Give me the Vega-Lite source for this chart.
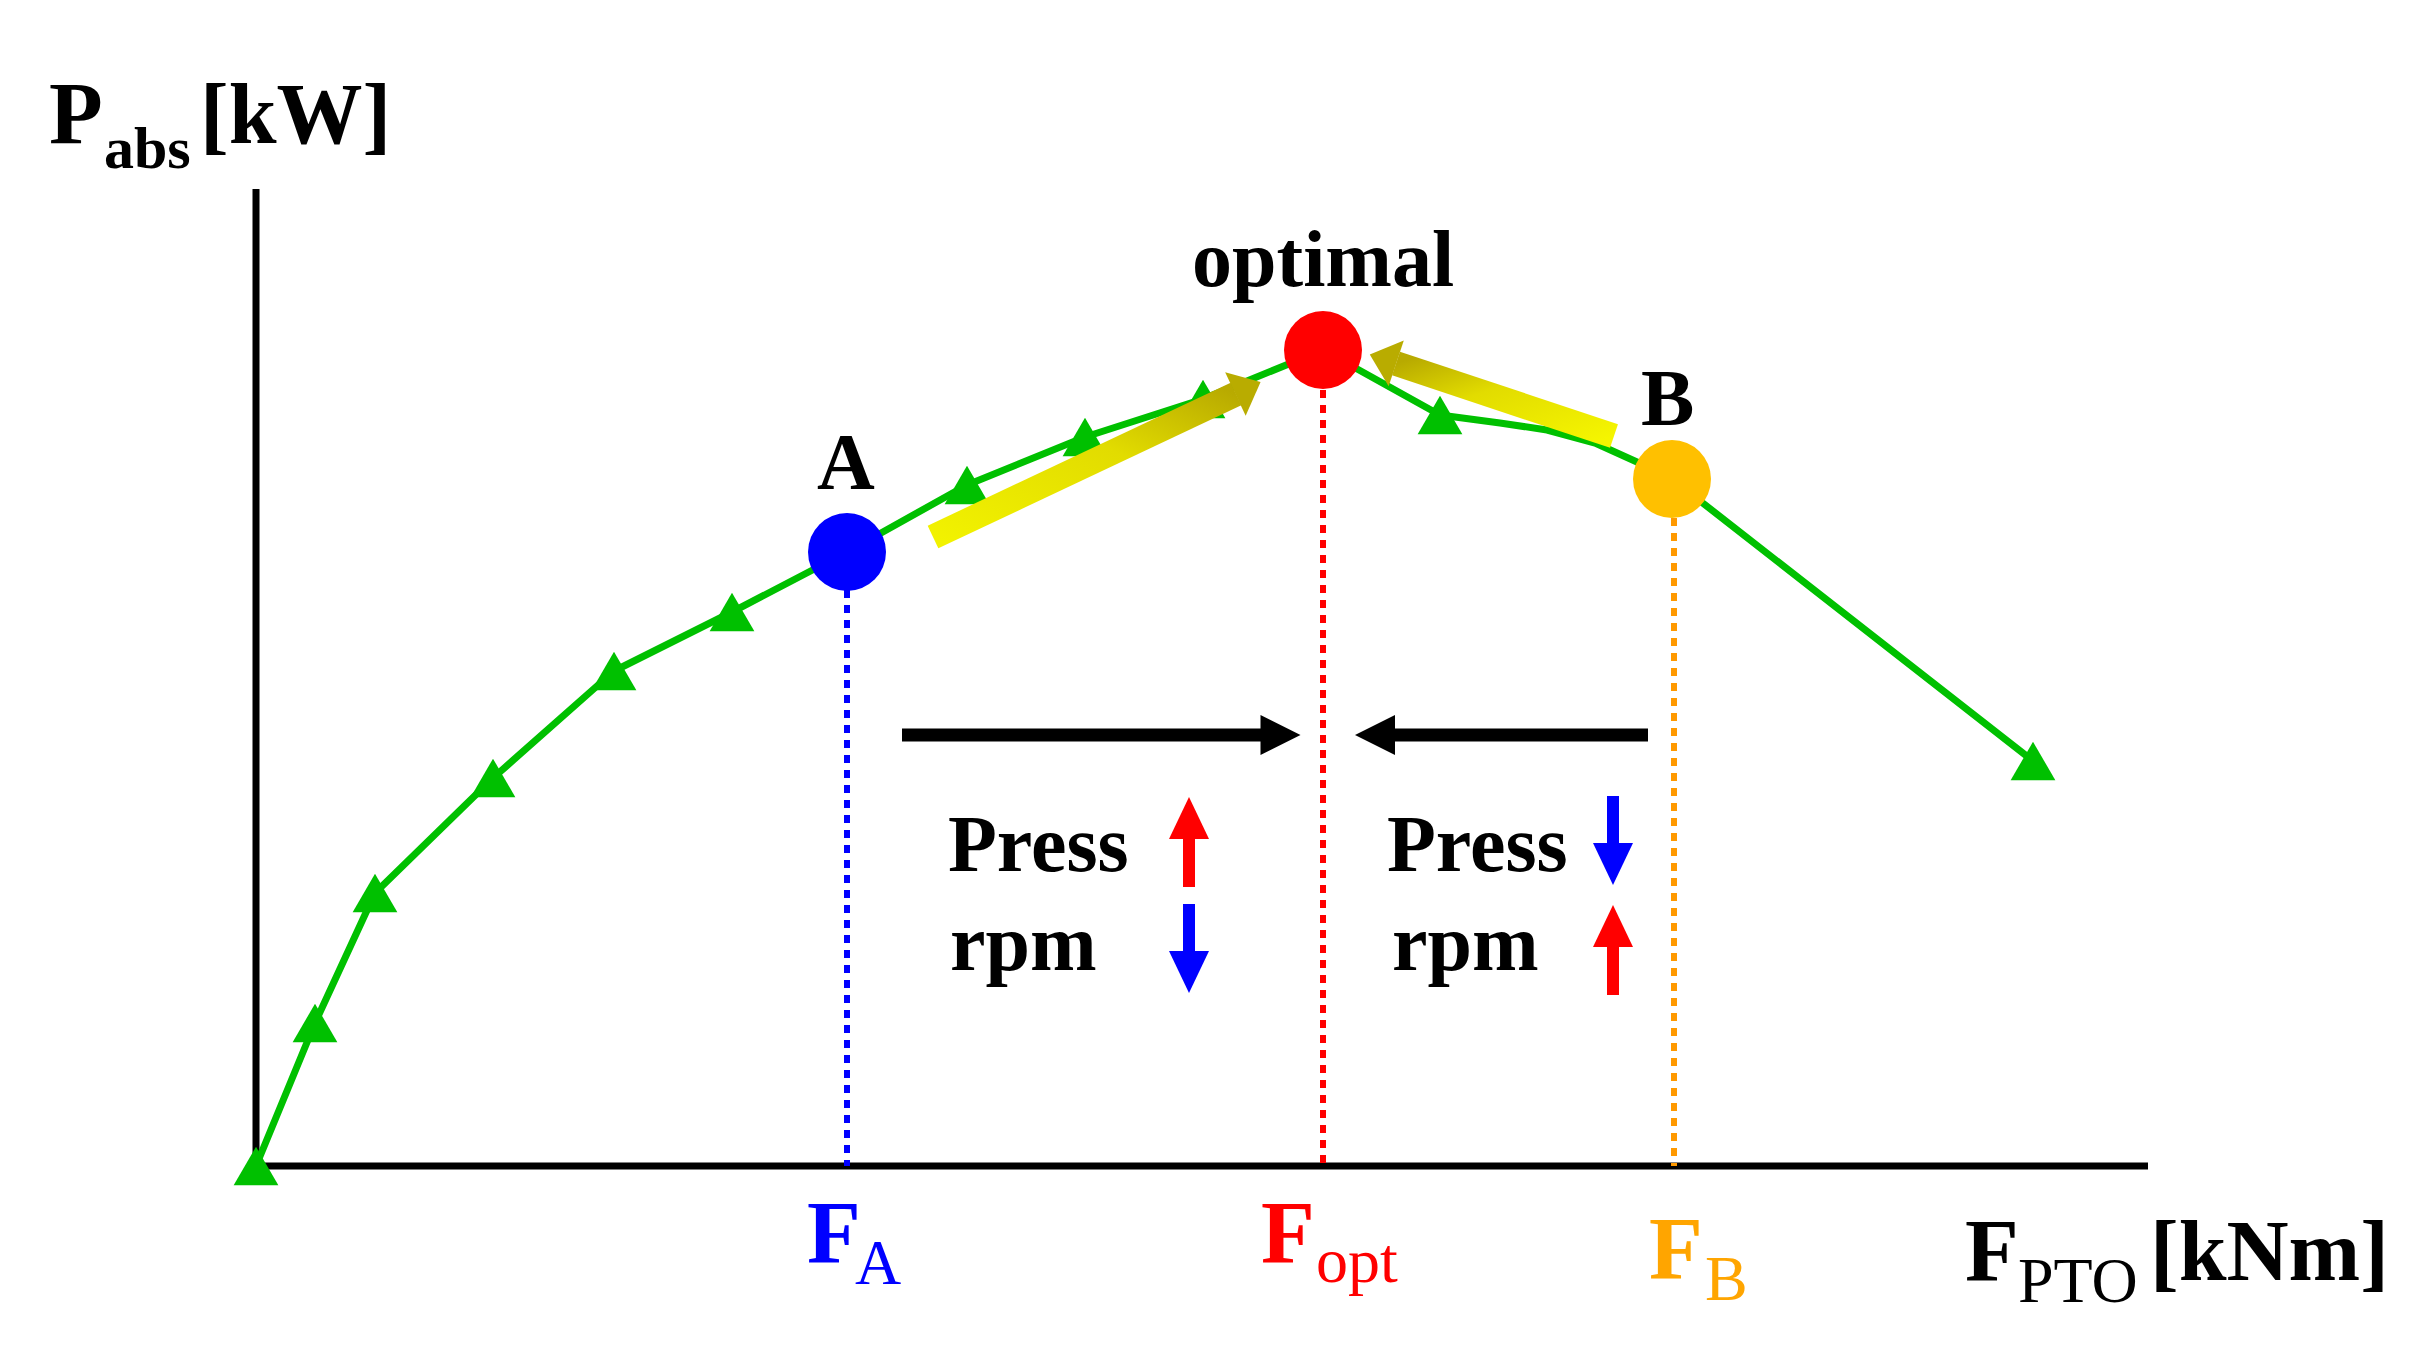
{
  "$schema": "https://vega.github.io/schema/vega-lite/v6.json",
  "width": 2430,
  "height": 1358,
  "autosize": {"type": "none"},
  "padding": 0,
  "background": "#FFFFFF",
  "config": {"view": {"stroke": null}, "font": "Liberation Serif"},
  "datasets": {
    "axes": [
      {"name": "P_abs axis", "F": 0, "P": -0.4, "F2": 0, "P2": 97.7},
      {"name": "F_PTO axis", "F": -0.3, "P": 0, "F2": 189.2, "P2": 0}
    ],
    "curve": [
      {"F": 0, "P": 0, "kind": "tri"},
      {"F": 5.9, "P": 14.3, "kind": "tri"},
      {"F": 11.9, "P": 27.3, "kind": "tri"},
      {"F": 23.7, "P": 38.8, "kind": "tri"},
      {"F": 35.8, "P": 49.5, "kind": "tri"},
      {"F": 47.6, "P": 55.4, "kind": "tri"},
      {"F": 59.1, "P": 61.4, "kind": "A"},
      {"F": 71.1, "P": 68.1, "kind": "tri"},
      {"F": 82.9, "P": 72.9, "kind": "tri"},
      {"F": 94.7, "P": 76.7, "kind": "tri"},
      {"F": 106.7, "P": 81.6, "kind": "opt"},
      {"F": 118.4, "P": 75.1, "kind": "tri"},
      {"F": 124.4, "P": 74.3, "kind": "bend"},
      {"F": 129.1, "P": 73.6, "kind": "bend"},
      {"F": 133.9, "P": 72.3, "kind": "bend"},
      {"F": 138.1, "P": 70.4, "kind": "bend"},
      {"F": 141.6, "P": 68.7, "kind": "B"},
      {"F": 177.7, "P": 40.5, "kind": "tri"}
    ],
    "guides": [
      {"F": 59.1, "P": 57.6, "kind": "A"},
      {"F": 106.7, "P": 77.6, "kind": "opt"},
      {"F": 141.8, "P": 64.8, "kind": "B"}
    ],
    "yellow1": [{"F": 67.7, "P": 62.9, "F2": 98.0, "P2": 77.2}],
    "yellow2": [{"F": 135.8, "P": 73.0, "F2": 114.0, "P2": 80.25}],
    "yellowHead1": [{"F": 99.2, "P": 77.8}],
    "yellowHead2": [{"F": 112.7, "P": 80.7}],
    "blackShafts": [
      {"name": "right", "F": 64.6, "P": 43.1, "F2": 100.8, "P2": 43.1},
      {"name": "left", "F": 113.5, "P": 43.1, "F2": 139.2, "P2": 43.1}
    ],
    "blackHeadRight": [{"F": 102.45, "P": 43.1}],
    "blackHeadLeft": [{"F": 111.9, "P": 43.1}],
    "trendShafts": [
      {"side": "A", "var": "Press", "dir": "up", "F": 93.3, "P": 27.9, "P2": 33.0},
      {"side": "A", "var": "rpm", "dir": "down", "F": 93.3, "P": 21.2, "P2": 26.2},
      {"side": "B", "var": "Press", "dir": "down", "F": 135.7, "P": 32.0, "P2": 37.0},
      {"side": "B", "var": "rpm", "dir": "up", "F": 135.7, "P": 17.1, "P2": 22.2}
    ],
    "trendHeads": [
      {"side": "A", "var": "Press", "dir": "up", "F": 93.3, "P": 34.8},
      {"side": "A", "var": "rpm", "dir": "down", "F": 93.3, "P": 19.4},
      {"side": "B", "var": "Press", "dir": "down", "F": 135.7, "P": 30.2},
      {"side": "B", "var": "rpm", "dir": "up", "F": 135.7, "P": 24.0}
    ],
    "labels": [
      {"text": "P", "F": -20.7, "P": 102.3, "role": "main", "kind": "axis"},
      {"text": "abs", "F": -15.2, "P": 99.8, "role": "subbold", "kind": "axis"},
      {"text": "[kW]", "F": -5.6, "P": 102.3, "role": "unit", "kind": "axis"},
      {"text": "optimal", "F": 93.6, "P": 88.0, "role": "note", "kind": "axis"},
      {"text": "A", "F": 56.1, "P": 67.7, "role": "note", "kind": "axis"},
      {"text": "B", "F": 138.5, "P": 74.1, "role": "note", "kind": "axis"},
      {"text": "Press", "F": 69.2, "P": 29.5, "role": "note", "kind": "axis"},
      {"text": "rpm", "F": 69.4, "P": 19.6, "role": "note", "kind": "axis"},
      {"text": "Press", "F": 113.1, "P": 29.5, "role": "note", "kind": "axis"},
      {"text": "rpm", "F": 113.6, "P": 19.6, "role": "note", "kind": "axis"},
      {"text": "F", "F": 55.1, "P": -9.6, "role": "main", "kind": "A"},
      {"text": "A", "F": 59.9, "P": -11.8, "role": "sub", "kind": "A"},
      {"text": "F", "F": 100.5, "P": -9.6, "role": "main", "kind": "opt"},
      {"text": "opt", "F": 106.0, "P": -11.6, "role": "sub", "kind": "opt"},
      {"text": "F", "F": 139.3, "P": -11.2, "role": "main", "kind": "B"},
      {"text": "B", "F": 144.9, "P": -13.4, "role": "sub", "kind": "B"},
      {"text": "F", "F": 170.9, "P": -11.4, "role": "main", "kind": "axis"},
      {"text": "PTO", "F": 176.2, "P": -13.6, "role": "sub", "kind": "axis"},
      {"text": "[kNm]", "F": 189.4, "P": -11.4, "role": "unit", "kind": "axis"}
    ]
  },
  "encoding": {
    "x": {"field": "F", "type": "quantitative", "scale": {"domain": [-25.6, 217.4], "nice": false, "zero": false}, "axis": null},
    "y": {"field": "P", "type": "quantitative", "scale": {"domain": [-19.2, 116.6], "nice": false, "zero": false}, "axis": null}
  },
  "layer": [
    {
      "data": {"name": "axes"},
      "mark": {"type": "rule", "stroke": "#000000", "strokeWidth": 7},
      "encoding": {"x2": {"field": "F2"}, "y2": {"field": "P2"}}
    },
    {
      "data": {"name": "curve"},
      "mark": {"type": "line", "stroke": "#00C000", "strokeWidth": 7, "interpolate": "linear", "strokeJoin": "round"},
      "encoding": {}
    },
    {
      "data": {"name": "curve"},
      "transform": [{"filter": "datum.kind == 'tri'"}],
      "mark": {"type": "point", "shape": "triangle-up", "filled": true, "fill": "#00C000", "opacity": 1, "size": 2000, "strokeWidth": 0}
    },
    {
      "data": {"name": "guides"},
      "mark": {"type": "rule", "strokeWidth": 6, "strokeDash": [8, 7], "strokeCap": "butt"},
      "encoding": {
        "y2": {"datum": 0},
        "stroke": {"field": "kind", "type": "nominal", "scale": {"domain": ["A", "opt", "B"], "range": ["#0000FF", "#FF0000", "#FF9900"]}, "legend": null}
      }
    },
    {
      "data": {"name": "curve"},
      "transform": [{"filter": "datum.kind == 'A' || datum.kind == 'opt' || datum.kind == 'B'"}],
      "mark": {"type": "point", "shape": "circle", "filled": true, "opacity": 1, "size": 6084, "strokeWidth": 0},
      "encoding": {
        "fill": {"field": "kind", "type": "nominal", "scale": {"domain": ["A", "opt", "B"], "range": ["#0000FF", "#FF0000", "#FFC000"]}, "legend": null}
      }
    },
    {
      "data": {"name": "yellow1"},
      "mark": {"type": "rule", "strokeWidth": 25, "strokeCap": "butt",
        "stroke": {"gradient": "linear", "x1": 0, "y1": 1, "x2": 1, "y2": 0, "stops": [{"offset": 0, "color": "#F2F200"}, {"offset": 0.6, "color": "#E2DC00"}, {"offset": 1, "color": "#B8AA00"}]}},
      "encoding": {"x2": {"field": "F2"}, "y2": {"field": "P2"}}
    },
    {
      "data": {"name": "yellow2"},
      "mark": {"type": "rule", "strokeWidth": 25, "strokeCap": "butt",
        "stroke": {"gradient": "linear", "x1": 1, "y1": 1, "x2": 0, "y2": 0, "stops": [{"offset": 0, "color": "#F5F500"}, {"offset": 0.6, "color": "#E2DC00"}, {"offset": 1, "color": "#B8AA00"}]}},
      "encoding": {"x2": {"field": "F2"}, "y2": {"field": "P2"}}
    },
    {
      "data": {"name": "yellowHead1"},
      "mark": {"type": "point", "shape": "M-0.58,-1L0.58,0L-0.58,1Z", "filled": true, "fill": "#B9AC00", "opacity": 1, "size": 2304, "angle": -25.3, "strokeWidth": 0}
    },
    {
      "data": {"name": "yellowHead2"},
      "mark": {"type": "point", "shape": "M-0.58,-1L0.58,0L-0.58,1Z", "filled": true, "fill": "#B9AC00", "opacity": 1, "size": 2304, "angle": 198.4, "strokeWidth": 0}
    },
    {
      "data": {"name": "blackShafts"},
      "mark": {"type": "rule", "stroke": "#000000", "strokeWidth": 13, "strokeCap": "butt"},
      "encoding": {"x2": {"field": "F2"}, "y2": {"field": "P2"}}
    },
    {
      "data": {"name": "blackHeadRight"},
      "mark": {"type": "point", "shape": "M-1,-1L1,0L-1,1Z", "filled": true, "fill": "#000000", "opacity": 1, "size": 1600, "angle": 0, "strokeWidth": 0}
    },
    {
      "data": {"name": "blackHeadLeft"},
      "mark": {"type": "point", "shape": "M-1,-1L1,0L-1,1Z", "filled": true, "fill": "#000000", "opacity": 1, "size": 1600, "angle": 180, "strokeWidth": 0}
    },
    {
      "data": {"name": "trendShafts"},
      "transform": [{"filter": "datum.dir == 'up'"}],
      "mark": {"type": "rule", "stroke": "#FF0000", "strokeWidth": 12, "strokeCap": "butt"},
      "encoding": {"y2": {"field": "P2"}}
    },
    {
      "data": {"name": "trendShafts"},
      "transform": [{"filter": "datum.dir == 'down'"}],
      "mark": {"type": "rule", "stroke": "#0000FF", "strokeWidth": 12, "strokeCap": "butt"},
      "encoding": {"y2": {"field": "P2"}}
    },
    {
      "data": {"name": "trendHeads"},
      "transform": [{"filter": "datum.dir == 'up'"}],
      "mark": {"type": "point", "shape": "M-1,1.05L0,-1.05L1,1.05Z", "filled": true, "fill": "#FF0000", "opacity": 1, "size": 1600, "strokeWidth": 0}
    },
    {
      "data": {"name": "trendHeads"},
      "transform": [{"filter": "datum.dir == 'down'"}],
      "mark": {"type": "point", "shape": "M-1,-1.05L0,1.05L1,-1.05Z", "filled": true, "fill": "#0000FF", "opacity": 1, "size": 1600, "strokeWidth": 0}
    },
    {
      "data": {"name": "labels"},
      "transform": [{"filter": "datum.role == 'note'"}],
      "mark": {"type": "text", "align": "left", "baseline": "alphabetic", "fontSize": 80, "fontWeight": "bold", "font": "Liberation Serif", "fill": "#000000"},
      "encoding": {"text": {"field": "text"}}
    },
    {
      "data": {"name": "labels"},
      "transform": [{"filter": "datum.role == 'main'"}],
      "mark": {"type": "text", "align": "left", "baseline": "alphabetic", "fontSize": 88, "fontWeight": "bold", "font": "Liberation Serif"},
      "encoding": {
        "text": {"field": "text"},
        "color": {"field": "kind", "type": "nominal", "scale": {"domain": ["A", "opt", "B", "axis"], "range": ["#0000FF", "#FF0000", "#FFA500", "#000000"]}, "legend": null}
      }
    },
    {
      "data": {"name": "labels"},
      "transform": [{"filter": "datum.role == 'sub'"}],
      "mark": {"type": "text", "align": "left", "baseline": "alphabetic", "fontSize": 64, "fontWeight": "normal", "font": "Liberation Serif"},
      "encoding": {
        "text": {"field": "text"},
        "color": {"field": "kind", "type": "nominal", "scale": {"domain": ["A", "opt", "B", "axis"], "range": ["#0000FF", "#FF0000", "#FFA500", "#000000"]}, "legend": null}
      }
    },
    {
      "data": {"name": "labels"},
      "transform": [{"filter": "datum.role == 'subbold'"}],
      "mark": {"type": "text", "align": "left", "baseline": "alphabetic", "fontSize": 60, "fontWeight": "bold", "font": "Liberation Serif", "fill": "#000000"},
      "encoding": {"text": {"field": "text"}}
    },
    {
      "data": {"name": "labels"},
      "transform": [{"filter": "datum.role == 'unit'"}],
      "mark": {"type": "text", "align": "left", "baseline": "alphabetic", "fontSize": 86, "fontWeight": "bold", "font": "Liberation Serif", "fill": "#000000"},
      "encoding": {"text": {"field": "text"}}
    }
  ]
}
